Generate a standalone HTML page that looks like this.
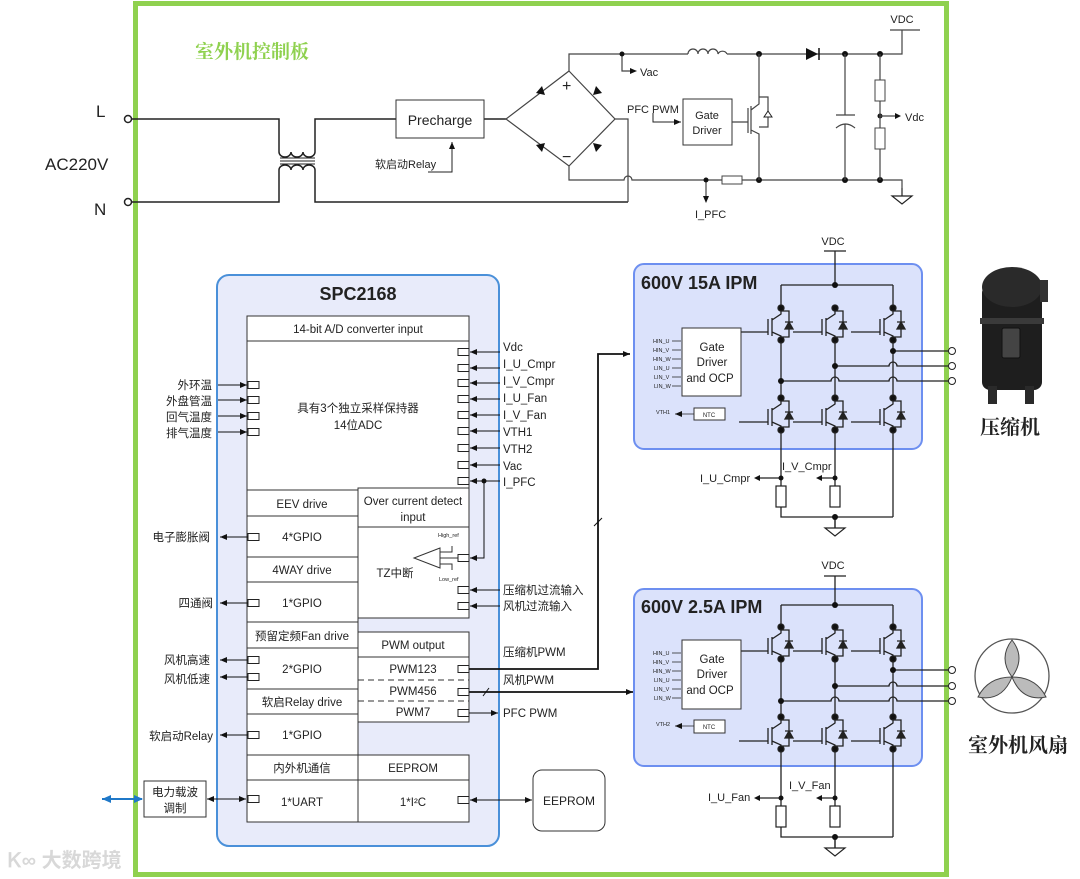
<!DOCTYPE html>
<html><head><meta charset="utf-8"><style>
body{margin:0;background:#fff}
svg{display:block}
text{font-family:"Liberation Sans","Noto Sans CJK SC",sans-serif;fill:#222}
</style></head><body>
<svg width="1080" height="879" viewBox="0 0 1080 879" xmlns="http://www.w3.org/2000/svg">
<defs>
<marker id="ar" markerWidth="8" markerHeight="8" refX="7" refY="4" orient="auto" markerUnits="userSpaceOnUse"><path d="M0,1 L7,4 L0,7z" fill="#111"/></marker>
<marker id="al" markerWidth="8" markerHeight="8" refX="1" refY="4" orient="auto" markerUnits="userSpaceOnUse"><path d="M8,1 L1,4 L8,7z" fill="#111"/></marker>
<marker id="bar" markerWidth="10" markerHeight="10" refX="8" refY="5" orient="auto" markerUnits="userSpaceOnUse"><path d="M0,1 L9,5 L0,9z" fill="#1f78c8"/></marker>
<marker id="bal" markerWidth="10" markerHeight="10" refX="1" refY="5" orient="auto" markerUnits="userSpaceOnUse"><path d="M10,1 L1,5 L10,9z" fill="#1f78c8"/></marker>
<g id="igbt" stroke="#222" stroke-width="1.3" fill="none">
<path d="M0,0 V6 L-9,12 M-9,10 V28 M-13,11 V27 M-13,24 H-42 M-9,24 L0,28 V32 M0,3 H8 V29 H0"/>
<path d="M4,21 H12 L8,14z M4,14 H12" fill="#222"/>
<circle cx="0" cy="0" r="3" fill="#111"/><circle cx="0" cy="32" r="3" fill="#111"/>
</g>
<g id="pin" fill="#fff" stroke="#222" stroke-width="1"><rect x="0" y="-3.5" width="11" height="7"/></g>
<g id="res"><rect x="-5" y="0" width="10" height="21" fill="#fff" stroke="#222" stroke-width="1.2"/></g>
<g id="gnd" stroke="#222" stroke-width="1.2" fill="none"><path d="M0,0 V8 M-10,8 H10 L0,16z"/></g>
</defs>

<rect x="135.5" y="3.5" width="811" height="871" fill="none" stroke="#8fd14f" stroke-width="5"/>
<text x="195" y="58" font-size="19" font-weight="bold" style="fill:#8fd14f;font-family:'Noto Serif CJK SC',serif">室外机控制板</text>

<text x="96" y="117" font-size="17">L</text>
<text x="45" y="170" font-size="17">AC220V</text>
<text x="94" y="215" font-size="17">N</text>
<g stroke="#222" stroke-width="1.5" fill="none">
<circle cx="128" cy="119" r="3.5" fill="#fff"/><circle cx="128" cy="202" r="3.5" fill="#fff"/>
<path d="M132,119 H279 V152 M132,202 H279 V170"/>
<path d="M279,152 a6,5 0 0 0 12,0 a6,5 0 0 0 12,0 a6,5 0 0 0 12,0 V119 H362"/>
<path d="M279,170 a6,5 0 0 1 12,0 a6,5 0 0 1 12,0 a6,5 0 0 1 12,0 V202 H628"/>
<path d="M280,158 H315 M280,161 H315 M280,164 H315" stroke-width="1"/>
<path d="M362,119 H396 M484,119 H506"/>
</g>
<rect x="396" y="100" width="88" height="38" fill="#fff" stroke="#333" stroke-width="1"/>
<text x="440" y="125" font-size="14" text-anchor="middle">Precharge</text>
<text x="375" y="168" font-size="11">软启动Relay</text>
<path d="M428,172 H452 V142" stroke="#222" stroke-width="1" fill="none" marker-end="url(#ar)"/>

<g stroke="#444" stroke-width="1.2" fill="none">
<path d="M569,71 L506,119 L569,166 L615,119 Z"/>
<path d="M569,71 V54 H688 M727,54 H806 M813,54 H902 V30 M890,30 H920"/>
<path d="M688,54 a5,5 0 0 1 10,0 a5,5 0 0 1 10,0 a5,5 0 0 1 10,0 a5,5 0 0 1 9,0"/>
<path d="M615,119 H628 V202"/>
<path d="M569,166 V180 H624 a4,4 0 0 1 8,0 H722 M742,180 H902 V188"/>
<path d="M622,54 V71 H630"/>
<path d="M706,180 V196"/>
</g>
<g fill="#111">
<path d="M545,95 l-9,-2 l6,-7z M593,95 l9,-2 l-6,-7z M545,143 l-9,2 l6,7z M593,143 l9,2 l-6,7z"/>
<path d="M806,48 V60 L818,54z"/><path d="M819,48 V60" stroke="#111" stroke-width="1.5"/>
<path d="M630,68 l7,3 l-7,3z"/><path d="M703,196 l3,7 l3,-7z"/>
<circle cx="622" cy="54" r="2.5"/><circle cx="759" cy="54" r="3"/><circle cx="845" cy="54" r="3"/><circle cx="880" cy="54" r="3"/>
<circle cx="706" cy="180" r="2.5"/><circle cx="759" cy="180" r="3"/><circle cx="845" cy="180" r="3"/><circle cx="880" cy="180" r="3"/>
<circle cx="880" cy="116" r="2.5"/>
</g>
<text x="562" y="91" font-size="16">+</text>
<text x="562" y="162" font-size="16">−</text>
<text x="640" y="76" font-size="11">Vac</text>
<text x="695" y="218" font-size="11">I_PFC</text>
<text x="902" y="23" font-size="11" text-anchor="middle">VDC</text>
<rect x="722" y="176" width="20" height="8" fill="#fff" stroke="#444"/>
<use href="#gnd" x="902" y="188"/>
<text x="627" y="113" font-size="11">PFC PWM</text>
<path d="M653,113 V122 H681" stroke="#222" fill="none" marker-end="url(#ar)"/>
<rect x="683" y="99" width="49" height="46" fill="#fff" stroke="#333"/>
<text x="707" y="119" font-size="11" text-anchor="middle">Gate</text>
<text x="707" y="134" font-size="11" text-anchor="middle">Driver</text>
<g stroke="#444" stroke-width="1.2" fill="none">
<path d="M732,122 H748 M748,108 V133 M751,106 V134 M751,110 L759,104 V54 M751,130 L759,134 V180 M759,97 H768 V127 H759"/>
<path d="M845,54 V115 M836,115 H855 M836,128 q9.5,-8 19,0 M845,124 V180"/>
<path d="M880,54 V180 M880,116 H895"/>
</g>
<path d="M764,117 h8 l-4,-6z" fill="#fff" stroke="#222"/>
<rect x="875" y="80" width="10" height="21" fill="#fff" stroke="#444"/>
<rect x="875" y="128" width="10" height="21" fill="#fff" stroke="#444"/>
<path d="M895,113 l6,3 l-6,3z" fill="#111"/>
<text x="905" y="121" font-size="11">Vdc</text>

<rect x="217" y="275" width="282" height="571" rx="12" fill="#e8ebfa" stroke="#4a90d9" stroke-width="2"/>
<text x="358" y="300" font-size="18" font-weight="bold" text-anchor="middle">SPC2168</text>
<g fill="#fff" stroke="#333" stroke-width="1">
<rect x="247" y="316" width="222" height="174"/>
<line x1="247" y1="341" x2="469" y2="341"/>
<rect x="247" y="490" width="111" height="332"/>
<rect x="358" y="488" width="111" height="130"/>
<rect x="358" y="632" width="111" height="90"/>
<rect x="358" y="755" width="111" height="67"/>
<path d="M247,516 H358 M247,557 H358 M247,582 H358 M247,622 H358 M247,648 H358 M247,689 H358 M247,714 H358 M247,755 H358 M247,780 H469 M358,527 H469 M358,657 H469"/>
<path d="M358,680 H469 M358,701 H469" stroke-dasharray="6,4"/>
</g>
<g font-size="11.5" text-anchor="middle">
<text x="358" y="333">14-bit A/D converter input</text>
<text x="358" y="412">具有3个独立采样保持器</text>
<text x="358" y="429">14位ADC</text>
<text x="302" y="508">EEV drive</text>
<text x="302" y="541">4*GPIO</text>
<text x="302" y="574">4WAY drive</text>
<text x="302" y="607">1*GPIO</text>
<text x="302" y="640">预留定频Fan drive</text>
<text x="302" y="673">2*GPIO</text>
<text x="302" y="706">软启Relay drive</text>
<text x="302" y="739">1*GPIO</text>
<text x="302" y="772">内外机通信</text>
<text x="302" y="806">1*UART</text>
<text x="413" y="505">Over current detect</text>
<text x="413" y="521">input</text>
<text x="395" y="577">TZ中断</text>
<text x="413" y="649">PWM output</text>
<text x="413" y="673">PWM123</text>
<text x="413" y="695">PWM456</text>
<text x="413" y="716">PWM7</text>
<text x="413" y="772">EEPROM</text>
<text x="413" y="806">1*I²C</text>
</g>
<g stroke="#333" stroke-width="1" fill="none">
<path d="M440,548 L414,558 L440,568 Z M440,552 H452 V546 M440,564 H452 V570"/>
<path d="M440,558 H458"/>
</g>
<text x="438" y="537" font-size="5.5">High_ref</text>
<text x="439" y="581" font-size="5.5">Low_ref</text>
<g>
<use href="#pin" x="248" y="385"/><use href="#pin" x="248" y="400"/><use href="#pin" x="248" y="416"/><use href="#pin" x="248" y="432"/>
<use href="#pin" x="248" y="537"/><use href="#pin" x="248" y="603"/><use href="#pin" x="248" y="660"/><use href="#pin" x="248" y="677"/><use href="#pin" x="248" y="735"/><use href="#pin" x="248" y="799"/>
<use href="#pin" x="458" y="352"/><use href="#pin" x="458" y="368"/><use href="#pin" x="458" y="383"/><use href="#pin" x="458" y="399"/><use href="#pin" x="458" y="415"/><use href="#pin" x="458" y="431"/><use href="#pin" x="458" y="448"/><use href="#pin" x="458" y="465"/><use href="#pin" x="458" y="481"/>
<use href="#pin" x="458" y="558"/><use href="#pin" x="458" y="590"/><use href="#pin" x="458" y="606"/>
<use href="#pin" x="458" y="669"/><use href="#pin" x="458" y="692"/><use href="#pin" x="458" y="713"/><use href="#pin" x="458" y="800"/>
</g>
<g stroke="#111" stroke-width="1" fill="none" marker-end="url(#ar)">
<line x1="218" y1="385" x2="247" y2="385"/><line x1="218" y1="400" x2="247" y2="400"/><line x1="218" y1="416" x2="247" y2="416"/><line x1="218" y1="432" x2="247" y2="432"/>
<line x1="248" y1="537" x2="220" y2="537"/><line x1="248" y1="603" x2="220" y2="603"/><line x1="248" y1="660" x2="220" y2="660"/><line x1="248" y1="677" x2="220" y2="677"/><line x1="248" y1="735" x2="220" y2="735"/>
<line x1="500" y1="352" x2="470" y2="352"/><line x1="500" y1="368" x2="470" y2="368"/><line x1="500" y1="383" x2="470" y2="383"/><line x1="500" y1="399" x2="470" y2="399"/><line x1="500" y1="415" x2="470" y2="415"/><line x1="500" y1="431" x2="470" y2="431"/><line x1="500" y1="448" x2="470" y2="448"/><line x1="500" y1="465" x2="470" y2="465"/><line x1="500" y1="481" x2="470" y2="481"/><line x1="500" y1="590" x2="470" y2="590"/><line x1="500" y1="606" x2="470" y2="606"/>
<path d="M484,481 V558 H470"/>
<line x1="469" y1="713" x2="498" y2="713"/>
</g>
<g stroke="#111" stroke-width="1" fill="none">
<path d="M207,799 H246" marker-start="url(#al)" marker-end="url(#ar)"/>
<path d="M470,800 H532" marker-start="url(#al)" marker-end="url(#ar)"/>
<path d="M469,669 H598 V354 H630" stroke-width="1.8" marker-end="url(#ar)"/>
<path d="M469,692 H633" stroke-width="1.8" marker-end="url(#ar)"/>
<path d="M594,526 L602,518 M483,696 L489,688"/>
</g>
<circle cx="484" cy="481" r="2.5" fill="#111"/>
<g font-size="11.5" text-anchor="end">
<text x="212" y="389">外环温</text><text x="212" y="405">外盘管温</text><text x="212" y="421">回气温度</text><text x="212" y="437">排气温度</text>
<text x="210" y="541">电子膨胀阀</text><text x="213" y="607">四通阀</text><text x="210" y="664">风机高速</text><text x="210" y="683">风机低速</text><text x="213" y="740">软启动Relay</text>
</g>
<g font-size="11.5">
<text x="503" y="351">Vdc</text><text x="503" y="368">I_U_Cmpr</text><text x="503" y="385">I_V_Cmpr</text><text x="503" y="402">I_U_Fan</text><text x="503" y="419">I_V_Fan</text><text x="503" y="436">VTH1</text><text x="503" y="453">VTH2</text><text x="503" y="470">Vac</text><text x="503" y="486">I_PFC</text>
<text x="503" y="594">压缩机过流输入</text><text x="503" y="610">风机过流输入</text><text x="503" y="656">压缩机PWM</text><text x="503" y="684">风机PWM</text><text x="503" y="717">PFC PWM</text>
</g>
<rect x="144" y="781" width="62" height="36" fill="#fff" stroke="#333"/>
<text x="175" y="796" font-size="11.5" text-anchor="middle">电力载波</text>
<text x="175" y="812" font-size="11.5" text-anchor="middle">调制</text>
<path d="M102,799 H142" stroke="#1f78c8" stroke-width="2" marker-start="url(#bal)" marker-end="url(#bar)"/>
<rect x="533" y="770" width="72" height="61" rx="9" fill="#fff" stroke="#333"/>
<text x="569" y="805" font-size="12" text-anchor="middle">EEPROM</text>
<text x="8" y="867" font-size="20" font-weight="bold" style="fill:#d8d8d8">Ꮶ∞ 大数跨境</text>

<rect x="634" y="264" width="288" height="185" rx="10" fill="#dbe2fb" stroke="#6d8ff0" stroke-width="2"/>
<text x="641" y="289" font-size="18" font-weight="bold">600V 15A IPM</text>
<text x="833" y="245" font-size="11" text-anchor="middle">VDC</text>
<g stroke="#222" stroke-width="1.3" fill="none">
<path d="M824,251 H846 M835,251 V285 M781,285 H893 M781,285 V308 M893,285 V308"/>
<path d="M781,340 V398 M835,340 V398 M893,340 V398"/>
<path d="M893,351 H948 M835,366 H889 a4,4 0 0 1 8,0 H948 M781,381 H831 a4,4 0 0 1 8,0 H889 a4,4 0 0 1 8,0 H948"/>
<path d="M781,430 V486 M835,430 V486 M893,430 V517 M781,507 V517 H893 M835,517 V528"/>
<path d="M781,478 H760 M835,478 H822"/>
</g>
<use href="#igbt" x="781" y="308"/><use href="#igbt" x="835" y="308"/><use href="#igbt" x="893" y="308"/>
<use href="#igbt" x="781" y="398"/><use href="#igbt" x="835" y="398"/><use href="#igbt" x="893" y="398"/>
<g fill="#111"><circle cx="835" cy="285" r="3"/><circle cx="893" cy="351" r="3"/><circle cx="835" cy="366" r="3"/><circle cx="781" cy="381" r="3"/><circle cx="781" cy="478" r="2.5"/><circle cx="835" cy="478" r="2.5"/><circle cx="835" cy="517" r="3"/>
<path d="M760,475 l-6,3 l6,3z M822,475 l-6,3 l6,3z"/></g>
<use href="#res" x="781" y="486"/><use href="#res" x="835" y="486"/>
<use href="#gnd" x="835" y="520"/>
<g fill="#fff" stroke="#222"><circle cx="952" cy="351" r="3.5"/><circle cx="952" cy="366" r="3.5"/><circle cx="952" cy="381" r="3.5"/></g>
<text x="700" y="482" font-size="11">I_U_Cmpr</text>
<text x="782" y="470" font-size="11">I_V_Cmpr</text>
<rect x="682" y="328" width="59" height="68" fill="#fff" stroke="#333"/>
<text x="712" y="351" font-size="11.5" text-anchor="middle">Gate</text>
<text x="712" y="366" font-size="11.5" text-anchor="middle">Driver</text>
<text x="710" y="382" font-size="11.5" text-anchor="middle">and  OCP</text>
<g font-size="5.5"><text x="653" y="343">HIN_U</text><text x="653" y="352">HIN_V</text><text x="653" y="361">HIN_W</text><text x="654" y="370">LIN_U</text><text x="654" y="379">LIN_V</text><text x="654" y="388">LIN_W</text><text x="656" y="414">VTH1</text></g>
<path d="M672,341 H681 M672,350 H681 M672,359 H681 M672,368 H681 M672,377 H681 M672,386 H681" stroke="#222" stroke-width="0.8"/>
<rect x="694" y="408" width="31" height="12" fill="#fff" stroke="#333"/>
<text x="709" y="417" font-size="6" text-anchor="middle">NTC</text>
<path d="M694,414 H675" stroke="#222" stroke-width="0.8" marker-end="url(#ar)"/>

<rect x="634" y="589" width="288" height="177" rx="10" fill="#dbe2fb" stroke="#6d8ff0" stroke-width="2"/>
<text x="641" y="613" font-size="18" font-weight="bold">600V 2.5A IPM</text>
<text x="833" y="569" font-size="11" text-anchor="middle">VDC</text>
<g stroke="#222" stroke-width="1.3" fill="none">
<path d="M824,576 H846 M835,576 V605 M781,605 H893 M781,605 V627 M893,605 V627"/>
<path d="M781,659 V717 M835,659 V717 M893,659 V717"/>
<path d="M893,670 H948 M835,686 H889 a4,4 0 0 1 8,0 H948 M781,701 H831 a4,4 0 0 1 8,0 H889 a4,4 0 0 1 8,0 H948"/>
<path d="M781,749 V806 M835,749 V806 M893,749 V837 M781,827 V837 H893 M835,837 V848"/>
<path d="M781,798 H760 M835,798 H822"/>
</g>
<use href="#igbt" x="781" y="627"/><use href="#igbt" x="835" y="627"/><use href="#igbt" x="893" y="627"/>
<use href="#igbt" x="781" y="717"/><use href="#igbt" x="835" y="717"/><use href="#igbt" x="893" y="717"/>
<g fill="#111"><circle cx="835" cy="605" r="3"/><circle cx="893" cy="670" r="3"/><circle cx="835" cy="686" r="3"/><circle cx="781" cy="701" r="3"/><circle cx="781" cy="798" r="2.5"/><circle cx="835" cy="798" r="2.5"/><circle cx="835" cy="837" r="3"/>
<path d="M760,795 l-6,3 l6,3z M822,795 l-6,3 l6,3z"/></g>
<use href="#res" x="781" y="806"/><use href="#res" x="835" y="806"/>
<use href="#gnd" x="835" y="840"/>
<g fill="#fff" stroke="#222"><circle cx="952" cy="670" r="3.5"/><circle cx="952" cy="686" r="3.5"/><circle cx="952" cy="701" r="3.5"/></g>
<text x="708" y="801" font-size="11">I_U_Fan</text>
<text x="789" y="789" font-size="11">I_V_Fan</text>
<rect x="682" y="640" width="59" height="69" fill="#fff" stroke="#333"/>
<text x="712" y="663" font-size="11.5" text-anchor="middle">Gate</text>
<text x="712" y="678" font-size="11.5" text-anchor="middle">Driver</text>
<text x="710" y="694" font-size="11.5" text-anchor="middle">and  OCP</text>
<g font-size="5.5"><text x="653" y="655">HIN_U</text><text x="653" y="664">HIN_V</text><text x="653" y="673">HIN_W</text><text x="654" y="682">LIN_U</text><text x="654" y="691">LIN_V</text><text x="654" y="700">LIN_W</text><text x="656" y="726">VTH2</text></g>
<path d="M672,653 H681 M672,662 H681 M672,671 H681 M672,680 H681 M672,689 H681 M672,698 H681" stroke="#222" stroke-width="0.8"/>
<rect x="694" y="720" width="31" height="13" fill="#fff" stroke="#333"/>
<text x="709" y="729" font-size="6" text-anchor="middle">NTC</text>
<path d="M694,726 H675" stroke="#222" stroke-width="0.8" marker-end="url(#ar)"/>

<rect x="982" y="285" width="60" height="105" rx="8" fill="#1e1e1e"/>
<ellipse cx="1012" cy="287" rx="30" ry="20" fill="#2a2a2a"/>
<rect x="980" y="318" width="64" height="6" fill="#3a3a3a"/>
<rect x="1002" y="328" width="18" height="30" rx="2" fill="#444" stroke="#111"/>
<rect x="1040" y="280" width="8" height="22" fill="#333"/>
<rect x="988" y="386" width="9" height="18" fill="#2a2a2a"/><rect x="1025" y="386" width="9" height="18" fill="#2a2a2a"/>
<text x="1010" y="434" font-size="20" font-weight="bold" text-anchor="middle" style="font-family:'Noto Serif CJK SC',serif">压缩机</text>
<circle cx="1012" cy="676" r="37" fill="#fff" stroke="#555" stroke-width="1.3"/>
<g fill="#bbb" stroke="#444" stroke-width="1">
<path d="M1012,677 Q998,658 1012,640 Q1026,658 1012,677z"/>
<path d="M1012,677 Q988,677 978,697 Q1002,702 1012,677z"/>
<path d="M1012,677 Q1036,677 1046,697 Q1022,702 1012,677z"/>
</g>
<text x="1018" y="752" font-size="20" font-weight="bold" text-anchor="middle" style="font-family:'Noto Serif CJK SC',serif">室外机风扇</text>
</svg>
</body></html>
